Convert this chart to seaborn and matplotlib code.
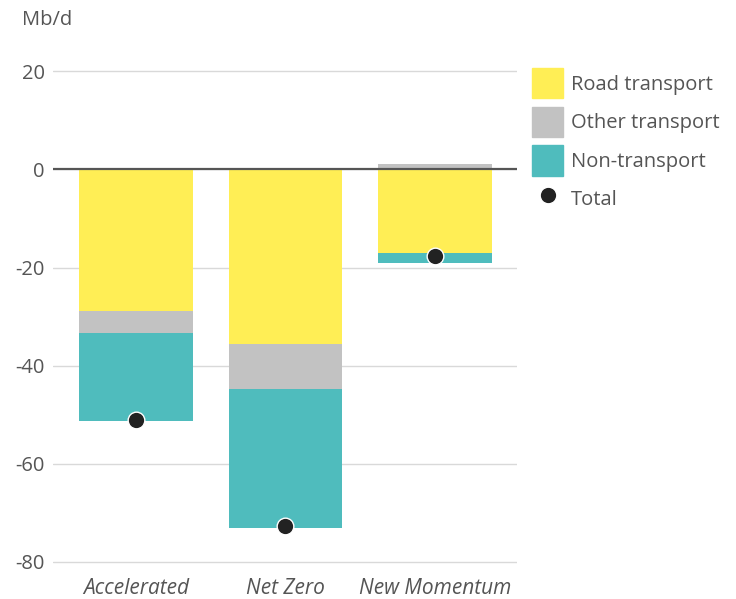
import numpy as np
import matplotlib
matplotlib.use('Agg')
import matplotlib.pyplot as plt
import seaborn as sns
from matplotlib.patches import Patch
from matplotlib.lines import Line2D

# Datos (Mb/d)
scenarios = ['Accelerated', 'Net Zero', 'New Momentum']
road = np.array([-28.9, -35.6, -17.1])
other = np.array([-4.4, -9.2, 1.2])
non_transport = np.array([-18.1, -28.3, -2.0])
total = np.array([-51.2, -72.8, -17.6])

c_road = '#FFEE55'
c_other = '#C2C2C2'
c_non = '#4FBCBD'
c_text = '#555555'

sns.set_style('white')
plt.rcParams['font.family'] = ['Open Sans', 'DejaVu Sans']
plt.rcParams['axes.unicode_minus'] = False
fs = 14.5

fig = plt.figure(figsize=(7.36, 5.99), dpi=100)
ax = fig.add_axes([0.072, 0.0584, 0.6305, 0.8264])

# apilado: negativos hacia abajo, positivos hacia arriba
neg_base = np.zeros(3)
pos_base = np.zeros(3)
for vals, col in [(road, c_road), (other, c_other), (non_transport, c_non)]:
    base = np.where(vals < 0, neg_base, pos_base)
    sns.barplot(x=scenarios, y=vals, bottom=base, color=col, width=0.76,
                saturation=1, linewidth=0, ax=ax, zorder=2)
    neg_base = neg_base + np.minimum(vals, 0)
    pos_base = pos_base + np.maximum(vals, 0)

sns.stripplot(x=scenarios, y=total, jitter=False, color='#222222', size=12,
              edgecolor='white', linewidth=1, ax=ax, zorder=4)

ax.set_xlim(-0.555, 2.55)
ax.set_ylim(-80.5, 20.5)
ax.set_yticks([20, 0, -20, -40, -60, -80])
ax.yaxis.grid(True, color='#D9D9D9', linewidth=1)
ax.set_axisbelow(True)
ax.axhline(0, color='#555555', linewidth=1.6, zorder=3)
for s in ax.spines.values():
    s.set_visible(False)
ax.tick_params(axis='both', length=0, labelsize=fs, labelcolor=c_text)
ax.tick_params(axis='y', pad=6)
ax.tick_params(axis='x', pad=10, labelsize=15)
for lab in ax.get_xticklabels():
    lab.set_fontstyle('italic')
ax.set_xlabel('')
ax.set_ylabel('')

fig.text(22 / 736, 1 - 20 / 599, 'Mb/d', fontsize=fs, color=c_text, va='center', ha='left')

handles = [Patch(color=c_road, label='Road transport'),
           Patch(color=c_other, label='Other transport'),
           Patch(color=c_non, label='Non-transport'),
           Line2D([], [], marker='o', linestyle='none', color='#222222',
                  markersize=12, markeredgecolor='white', label='Total')]
leg = fig.legend(handles=handles, loc='upper left',
                 bbox_to_anchor=(532 / 736, 1 - 68 / 599), frameon=False,
                 fontsize=fs, borderpad=0, borderaxespad=0,
                 handlelength=1.54, handleheight=1.93, labelspacing=0.42,
                 handletextpad=0.4)
for t in leg.get_texts():
    t.set_color(c_text)

plt.savefig('out.png', dpi=100)
